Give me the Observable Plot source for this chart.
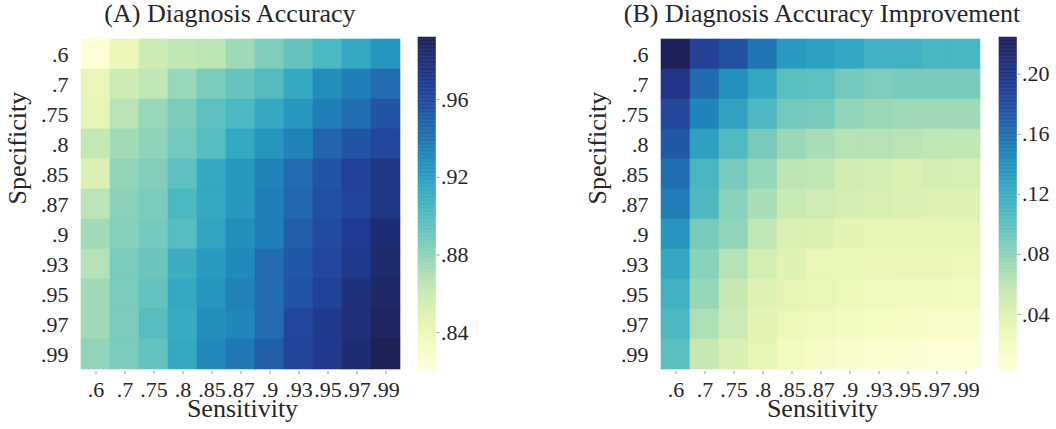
<!DOCTYPE html>
<html>
<head>
<meta charset="utf-8">
<script src="https://cdn.jsdelivr.net/npm/d3@7"></script>
<script src="https://cdn.jsdelivr.net/npm/@observablehq/plot@0.6"></script>
<style>
  body { margin: 0; background: #fff; }
  #wrap { position: relative; width: 1056px; height: 429px; overflow: hidden;
          font-family: "Liberation Serif", "Times New Roman", serif; color: #262626; }
  #wrap svg { position: absolute; top: 0; }
  .title { position: absolute; top: 1px; font-size: 26px; line-height: 1; white-space: nowrap;
           transform: translateX(-50%); }
</style>
</head>
<body>
<div id="wrap"></div>
<script>
// Categories (tick labels)
const sensitivity = [".6", ".7", ".75", ".8", ".85", ".87", ".9", ".93", ".95", ".97", ".99"];
const specificity = [".6", ".7", ".75", ".8", ".85", ".87", ".9", ".93", ".95", ".97", ".99"];

// (A) Diagnosis accuracy: one row per specificity, columns = sensitivity
const accuracy = [
  [0.823, 0.841, 0.858, 0.863, 0.865, 0.875, 0.885, 0.894, 0.903, 0.914, 0.924],
  [0.842, 0.858, 0.863, 0.877, 0.887, 0.893, 0.900, 0.914, 0.928, 0.935, 0.943],
  [0.844, 0.867, 0.877, 0.886, 0.896, 0.903, 0.914, 0.923, 0.935, 0.942, 0.954],
  [0.862, 0.874, 0.880, 0.889, 0.899, 0.914, 0.924, 0.933, 0.947, 0.954, 0.961],
  [0.851, 0.879, 0.884, 0.896, 0.914, 0.923, 0.933, 0.943, 0.954, 0.964, 0.973],
  [0.865, 0.882, 0.887, 0.903, 0.914, 0.923, 0.935, 0.945, 0.956, 0.963, 0.973],
  [0.874, 0.883, 0.889, 0.899, 0.916, 0.928, 0.935, 0.950, 0.959, 0.968, 0.980],
  [0.868, 0.887, 0.891, 0.910, 0.921, 0.930, 0.943, 0.952, 0.961, 0.970, 0.983],
  [0.875, 0.887, 0.894, 0.914, 0.924, 0.933, 0.943, 0.954, 0.964, 0.976, 0.985],
  [0.875, 0.887, 0.899, 0.912, 0.928, 0.931, 0.943, 0.961, 0.970, 0.978, 0.988],
  [0.879, 0.887, 0.894, 0.914, 0.930, 0.938, 0.950, 0.963, 0.970, 0.980, 0.992]
];

// (B) Diagnosis accuracy improvement
const improvement = [
  [0.224, 0.189, 0.178, 0.156, 0.133, 0.129, 0.124, 0.115, 0.115, 0.111, 0.111],
  [0.200, 0.162, 0.140, 0.124, 0.102, 0.100, 0.091, 0.087, 0.089, 0.089, 0.089],
  [0.184, 0.147, 0.127, 0.109, 0.091, 0.089, 0.078, 0.075, 0.073, 0.073, 0.073],
  [0.173, 0.129, 0.107, 0.089, 0.075, 0.069, 0.064, 0.064, 0.061, 0.059, 0.058],
  [0.160, 0.111, 0.089, 0.077, 0.060, 0.058, 0.049, 0.047, 0.042, 0.047, 0.046],
  [0.151, 0.109, 0.082, 0.069, 0.054, 0.050, 0.047, 0.045, 0.043, 0.041, 0.040],
  [0.136, 0.089, 0.079, 0.058, 0.043, 0.042, 0.035, 0.033, 0.033, 0.033, 0.033],
  [0.124, 0.082, 0.064, 0.048, 0.039, 0.031, 0.030, 0.029, 0.028, 0.028, 0.027],
  [0.115, 0.077, 0.055, 0.041, 0.033, 0.031, 0.027, 0.024, 0.023, 0.022, 0.021],
  [0.109, 0.067, 0.052, 0.036, 0.027, 0.024, 0.020, 0.018, 0.016, 0.014, 0.013],
  [0.102, 0.055, 0.044, 0.034, 0.021, 0.016, 0.012, 0.010, 0.008, 0.005, 0.004]
];

// Colour ranges and colour-bar ticks
const accuracyDomain = [0.820, 0.992];
const improvementDomain = [0.002, 0.2245];
const accuracyTicks = [0.84, 0.88, 0.92, 0.96];
const improvementTicks = [0.04, 0.08, 0.12, 0.16, 0.20];

const FONT = "'Liberation Serif', 'Times New Roman', serif";
const wrap = document.getElementById("wrap");

// YlGnBu, with a slightly softer navy at the dark end (as in the reference)
const darkEnd = d3.interpolateRgb(d3.interpolateYlGnBu(0.86), "#1e2156");
const ylgnbu = t => t <= 0.86 ? d3.interpolateYlGnBu(t) : darkEnd((t - 0.86) / 0.14);

function toTable(matrix) {
  const rows = [];
  specificity.forEach((sp, i) => sensitivity.forEach((se, j) => rows.push({sens: se, spec: sp, value: matrix[i][j]})));
  return rows;
}

function heatmap(matrix, domain, left) {
  const data = toTable(matrix);
  const svg = Plot.plot({
    width: 410, height: 429,
    marginLeft: 79, marginRight: 9, marginTop: 37, marginBottom: 58,
    style: {fontFamily: FONT, fontSize: "22px", color: "#262626", background: "transparent"},
    x: {domain: sensitivity, padding: 0},
    y: {domain: specificity, padding: 0},
    color: {type: "linear", interpolate: () => ylgnbu, domain, clamp: true},
    marks: [
      Plot.cell(data, {x: "sens", y: "spec", fill: "value", stroke: "value", strokeWidth: 0.6, inset: 0}),
      Plot.axisX({tickSize: 3, tickPadding: 7, stroke: "#999", label: null}),
      Plot.axisY({tickSize: 0, tickPadding: 11, label: null}),
      Plot.text(["Sensitivity"], {frameAnchor: "bottom", dy: 45, dx: 2, fontSize: 26, fill: "#262626"}),
      Plot.text(["Specificity"], {frameAnchor: "left", rotate: -90, dx: -62, fontSize: 26, fill: "#262626"})
    ]
  });
  svg.style.left = left + "px";
  wrap.appendChild(svg);
}

function colorbar(domain, ticks, left) {
  const n = 240;
  const step = (domain[1] - domain[0]) / n;
  const slices = d3.range(n).map(i => ({lo: domain[0] + i * step, hi: domain[0] + (i + 1) * step}));
  const svg = Plot.plot({
    width: 66, height: 429,
    marginLeft: 8, marginRight: 40.5, marginTop: 37, marginBottom: 58,
    style: {fontFamily: FONT, fontSize: "22px", color: "#262626", background: "transparent"},
    x: {domain: [0, 1], axis: null},
    y: {domain},
    color: {type: "linear", interpolate: () => ylgnbu, domain},
    marks: [
      Plot.rect(slices, {x1: 0, x2: 1, y1: "lo", y2: "hi", fill: d => (d.lo + d.hi) / 2,
                         stroke: d => (d.lo + d.hi) / 2, strokeWidth: 0.5}),
      Plot.axisY({anchor: "right", ticks, tickFormat: d => d3.format(".2f")(d).replace(/^0/, ""),
                  tickSize: 3, tickPadding: 2, stroke: "#999", label: null})
    ]
  });
  svg.style.left = left + "px";
  wrap.appendChild(svg);
}

heatmap(accuracy, accuracyDomain, 0);
colorbar(accuracyDomain, accuracyTicks, 410);
heatmap(improvement, improvementDomain, 580);
colorbar(improvementDomain, improvementTicks, 990.5);

function title(text, cx) {
  const d = document.createElement("div");
  d.className = "title";
  d.style.left = cx + "px";
  d.textContent = text;
  wrap.appendChild(d);
}
title("(A) Diagnosis Accuracy", 230);
title("(B) Diagnosis Accuracy Improvement", 822);
</script>
</body>
</html>
